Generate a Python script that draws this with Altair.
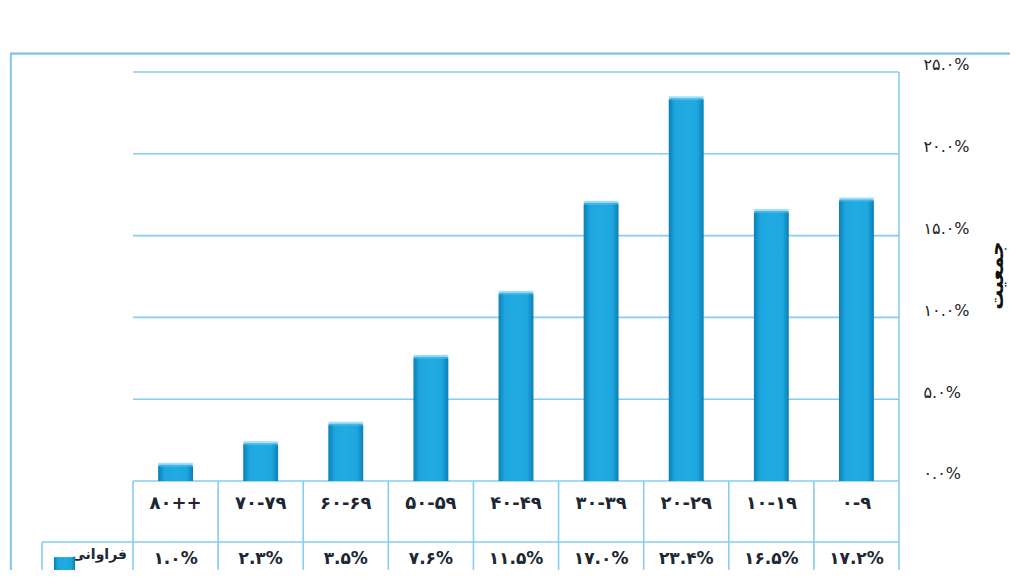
import altair as alt
import pandas as pd

# ---------------- data ----------------
categories = ["۰-۹", "۱۰-۱۹", "۲۰-۲۹", "۳۰-۳۹", "۴۰-۴۹", "۵۰-۵۹", "۶۰-۶۹", "۷۰-۷۹", "۸۰++"]
values = [17.2, 16.5, 23.4, 17.0, 11.5, 7.6, 3.5, 2.3, 1.0]
value_labels = ["۱۷.۲%", "۱۶.۵%", "۲۳.۴%", "۱۷.۰%", "۱۱.۵%", "۷.۶%", "۳.۵%", "۲.۳%", "۱.۰%"]
y_tick_values = [0, 5, 10, 15, 20, 25]
y_tick_labels = ["۰.۰%", "۵.۰%", "۱۰.۰%", "۱۵.۰%", "۲۰.۰%", "۲۵.۰%"]
y_title = "جمعیت"
legend_label = "فراوانی"

# ---------------- layout constants ----------------
N = len(categories)
X_MIN, X_MAX = -1.445, 10.304
Y_MIN, Y_MAX = -5.44, 26.222
ROW1_CENTER = -1.40
ROW_DIV = -3.73
ROW2_CENTER = -4.75
LEGEND_LEFT = -1.069
HALF_BAR = 0.205

LINE = "#86cdee"
TEXT = "#1c2733"
FONT = "DejaVu Sans"

n = len(categories)
df = pd.DataFrame({
    "cat": categories,
    "value": values,
    "vlabel": value_labels,
    "col": [n - 1 - i for i in range(n)],
})
df["xc"] = df["col"] + 0.5
df["x0"] = df["xc"] - HALF_BAR
df["x1"] = df["xc"] + HALF_BAR
df["zero"] = 0.0
df["r1"] = ROW1_CENTER
df["r2"] = ROW2_CENTER

xs = alt.Scale(domain=[X_MIN, X_MAX], nice=False, zero=False)
label_expr = " : ".join(
    f"datum.value == {v} ? '{l}'" for v, l in zip(y_tick_values, y_tick_labels)
) + " : ''"
ys = alt.Scale(domain=[Y_MIN, Y_MAX], nice=False, zero=False)

yaxis = alt.Axis(
    orient="right", offset=-111, values=y_tick_values, labelExpr=label_expr,
    domain=False, ticks=False, grid=False, labelPadding=24, labelAlign="left",
    labelOffset=-7, labelFont=FONT, labelFontSize=16, labelColor="#222222",
    title=y_title, titleAngle=270, titleX=97, titleY=223, titleAlign="center",
    titleBaseline="middle", titleFont=FONT, titleFontSize=20, titleFontWeight="bold",
    titleColor="#111111",
)

# gridlines
grid_df = pd.DataFrame({"y": y_tick_values, "x0": 0, "x1": N})
grid = alt.Chart(grid_df).mark_rule(color=LINE, strokeWidth=1.6).encode(
    x=alt.X("x0:Q", scale=xs, axis=None), x2="x1:Q",
    y=alt.Y("y:Q", scale=ys, axis=yaxis),
)

# right frame line of plot
right_df = pd.DataFrame({"x": [N], "y0": [0], "y1": [y_tick_values[-1]]})
right_line = alt.Chart(right_df).mark_rule(color=LINE, strokeWidth=1.6).encode(
    x=alt.X("x:Q", scale=xs), y=alt.Y("y0:Q", scale=ys), y2="y1:Q"
)

# table lines
hline_df = pd.DataFrame({"y": [ROW_DIV], "x0": [LEGEND_LEFT], "x1": [N]})
hlines = alt.Chart(hline_df).mark_rule(color=LINE, strokeWidth=1.6).encode(
    x=alt.X("x0:Q", scale=xs), x2="x1:Q", y=alt.Y("y:Q", scale=ys)
)
vline_df = pd.DataFrame({
    "x": list(range(N + 1)) + [LEGEND_LEFT],
    "y0": [0.0] * (N + 1) + [ROW_DIV],
    "y1": [Y_MIN] * (N + 2),
})
vlines = alt.Chart(vline_df).mark_rule(color=LINE, strokeWidth=1.6).encode(
    x=alt.X("x:Q", scale=xs), y=alt.Y("y0:Q", scale=ys), y2="y1:Q"
)

# outer frame
frame_v = alt.Chart(pd.DataFrame({"x": [X_MIN + 0.01], "y0": [Y_MAX - 0.1], "y1": [Y_MIN]})).mark_rule(
    color="#7cc6ea", strokeWidth=2).encode(
    x=alt.X("x:Q", scale=xs), y=alt.Y("y0:Q", scale=ys), y2="y1:Q")
frame_h = alt.Chart(pd.DataFrame({"y": [Y_MAX - 0.1], "x0": [X_MIN], "x1": [X_MAX]})).mark_rule(
    color="#7cc6ea", strokeWidth=2).encode(
    x=alt.X("x0:Q", scale=xs), x2="x1:Q", y=alt.Y("y:Q", scale=ys))

# bars
grad = alt.Gradient(
    gradient="linear", x1=0, x2=1, y1=0, y2=0,
    stops=[
        alt.GradientStop(color="#0b7fb6", offset=0),
        alt.GradientStop(color="#1ea6de", offset=0.18),
        alt.GradientStop(color="#22abe2", offset=0.5),
        alt.GradientStop(color="#1ea6de", offset=0.82),
        alt.GradientStop(color="#0b7fb6", offset=1),
    ],
)
bars = alt.Chart(df).mark_rect(fill=grad, cornerRadiusTopLeft=2, cornerRadiusTopRight=2).encode(
    x=alt.X("x0:Q", scale=xs), x2="x1:Q",
    y=alt.Y("zero:Q", scale=ys), y2="value:Q",
)
bar_top = alt.Chart(df).mark_rect(color="#5cc6ee", opacity=0.55, height=4).encode(
    x=alt.X("x0:Q", scale=xs), x2="x1:Q",
    y=alt.Y("value:Q", scale=ys),
)

# table texts
cat_text = alt.Chart(df).mark_text(
    font=FONT, fontSize=18, fontWeight="bold", color=TEXT, baseline="middle", align="center"
).encode(x=alt.X("xc:Q", scale=xs), y=alt.Y("r1:Q", scale=ys), text="cat:N")
val_text = alt.Chart(df).mark_text(
    font=FONT, fontSize=17, fontWeight="bold", color=TEXT, baseline="middle", align="center"
).encode(x=alt.X("xc:Q", scale=xs), y=alt.Y("r2:Q", scale=ys), text="vlabel:N")

leg_df = pd.DataFrame({"x": [-0.07], "y": [-4.55], "t": [legend_label],
                       "sx0": [-0.928], "sx1": [-0.681], "sy0": [-4.65], "sy1": [Y_MIN]})
leg_text = alt.Chart(leg_df).mark_text(
    font=FONT, fontSize=14, fontWeight="bold", color=TEXT, baseline="middle", align="right"
).encode(x=alt.X("x:Q", scale=xs), y=alt.Y("y:Q", scale=ys), text="t:N")
leg_swatch = alt.Chart(leg_df).mark_rect(fill=grad).encode(
    x=alt.X("sx0:Q", scale=xs), x2="sx1:Q", y=alt.Y("sy0:Q", scale=ys), y2="sy1:Q"
)

chart = alt.layer(
    grid, right_line, hlines, vlines, frame_v, frame_h, bars, bar_top,
    cat_text, val_text, leg_text, leg_swatch,
).properties(
    width=1000, height=518,
    padding={"left": 2, "top": 44, "right": 0, "bottom": 0},
    autosize=alt.AutoSizeParams(type="none"),
).configure_view(stroke=None).configure(background="white")

chart.save("out.html", embed_options={"renderer": "svg", "actions": False})
